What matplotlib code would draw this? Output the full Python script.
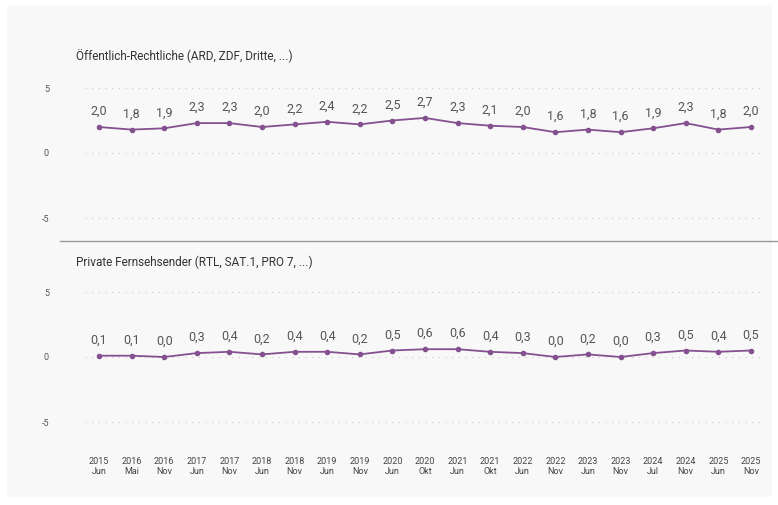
import matplotlib
matplotlib.use('Agg')
import matplotlib.pyplot as plt
from matplotlib.patches import Rectangle
from matplotlib.lines import Line2D

years = ['2015', '2016', '2016', '2017', '2017', '2018', '2018', '2019', '2019', '2020', '2020',
         '2021', '2021', '2022', '2022', '2023', '2023', '2024', '2024', '2025', '2025']
months = ['Jun', 'Mai', 'Nov', 'Jun', 'Nov', 'Jun', 'Nov', 'Jun', 'Nov', 'Jun', 'Okt',
          'Jun', 'Okt', 'Jun', 'Nov', 'Jun', 'Nov', 'Jul', 'Nov', 'Jun', 'Nov']

public_values = [2.0, 1.8, 1.9, 2.3, 2.3, 2.0, 2.2, 2.4, 2.2, 2.5, 2.7,
                 2.3, 2.1, 2.0, 1.6, 1.8, 1.6, 1.9, 2.3, 1.8, 2.0]
private_values = [0.1, 0.1, 0.0, 0.3, 0.4, 0.2, 0.4, 0.4, 0.2, 0.5, 0.6,
                  0.6, 0.4, 0.3, 0.0, 0.2, 0.0, 0.3, 0.5, 0.4, 0.5]

titles = ['Öffentlich-Rechtliche (ARD, ZDF, Dritte, ...)',
          'Private Fernsehsender (RTL, SAT.1, PRO 7, ...)']

W, H = 778, 505
plt.rcParams['font.family'] = ['Roboto', 'DejaVu Sans']

fig = plt.figure(figsize=(W / 100, H / 100), dpi=100)
fig.patch.set_facecolor('white')

# light panel behind both charts
fig.patches.append(Rectangle((7 / W, 8 / H), 765 / W, 492 / H, transform=fig.transFigure,
                             facecolor='#f8f8f8', edgecolor='none', zorder=-10))

line_col = '#84508f'
x = list(range(len(years)))


def px_axes(left, right, top, bottom):
    return fig.add_axes([left / W, 1 - bottom / H, (right - left) / W, (bottom - top) / H])


def draw_panel(ax, values, title, title_y, show_x):
    ax.set_facecolor('none')
    for s in ax.spines.values():
        s.set_visible(False)
    ax.set_xlim(-0.43, 20.28)
    ax.set_ylim(-6, 6)
    ax.set_yticks([-5, 0, 5])
    ax.set_yticklabels(['-5', '0', '5'])
    ax.tick_params(axis='y', length=0, pad=26, labelsize=6.5, labelcolor='#555555')
    for yv in [-5, 0, 5]:
        ax.axhline(yv, color='#c8c8c8', linewidth=0.8, linestyle=(0, (1, 5)), zorder=0)
    ax.plot(x, values, color=line_col, linewidth=1.3, marker='o', markersize=3, zorder=3)
    for xi, v in zip(x, values):
        ax.annotate(f'{v:.1f}'.replace('.', ','), (xi, v), xytext=(0, 6.5),
                    textcoords='offset points', ha='center', va='bottom',
                    fontsize=9, color='#555555')
    if show_x:
        ax.set_xticks(x)
        ax.set_xticklabels([f'{y}\n{m}' for y, m in zip(years, months)],
                           fontsize=6.5, color='#444444', linespacing=1.15)
        ax.tick_params(axis='x', length=0, pad=16)
    else:
        ax.set_xticks([])
    fig.text(76 / W, 1 - title_y / H, title, fontsize=8.5, color='#333333',
             ha='left', va='center')


ax1 = px_axes(85, 760, 75, 231)
draw_panel(ax1, public_values, titles[0], 56, False)

ax2 = px_axes(85, 760, 279, 435)
draw_panel(ax2, private_values, titles[1], 262, True)

# divider between the two panels
fig.lines.append(Line2D([60 / W, 1], [1 - 241 / H, 1 - 241 / H], transform=fig.transFigure,
                        color='#9a9a9a', linewidth=1.0))

fig.savefig('out.png', dpi=100)
